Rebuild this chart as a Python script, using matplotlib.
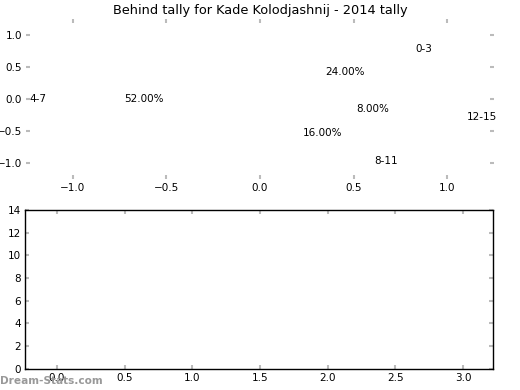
import matplotlib
matplotlib.use("Agg")
import matplotlib.pyplot as plt
import numpy as np

title = "Behind tally for Kade Kolodjashnij - 2014 tally"
categories = ["0-3", "4-7", "8-11", "12-15"]
counts = [6, 13, 4, 2]
pie_xticks = [-1.0, -0.5, 0.0, 0.5, 1.0]
pie_yticks = [-1.0, -0.5, 0.0, 0.5, 1.0]
bar_xticks = [0.0, 0.5, 1.0, 1.5, 2.0, 2.5, 3.0]
bar_yticks = [0, 2, 4, 6, 8, 10, 12, 14]

fig = plt.figure(figsize=(5.2, 3.9), dpi=100)
tick_grey = "#bbbbbb"

# top: pie with invisible wedges
ax1 = fig.add_axes([0.05, 0.541, 0.9, 0.41])
wedges, texts, autotexts = ax1.pie(
    counts, labels=categories, autopct="%.2f%%", startangle=0,
    radius=1.035, wedgeprops=dict(alpha=0.0), textprops=dict(fontsize=7.5))
ax1.set_aspect("auto")
ax1.set_xlim(-1.25, 1.25)
ax1.set_ylim(-1.25, 1.25)
ax1.set_frame_on(False)
ax1.set_xticks(pie_xticks)
ax1.set_yticks(pie_yticks)
ax1.set_xticklabels([f"{v:.1f}".replace("-", "\u2212") for v in pie_xticks])
ax1.set_yticklabels([f"{v:.1f}".replace("-", "\u2212") for v in pie_yticks])
ax1.tick_params(direction="in", length=3, width=1.5, color=tick_grey,
                labelsize=7.5, top=True, right=True, pad=3)
ax1.set_title(title, fontsize=9.3, pad=3.5)

# bottom: empty bar area
ax2 = fig.add_axes([0.048, 0.054, 0.9, 0.408])
ax2.set_xlim(-0.236, 3.22)
ax2.set_ylim(0, 14)
ax2.set_xticks(bar_xticks)
ax2.set_yticks(bar_yticks)
ax2.tick_params(direction="in", length=3, width=1.5, color=tick_grey,
                labelsize=7.5, top=True, right=True, pad=3)
for s in ax2.spines.values():
    s.set_linewidth(1.0)

fig.text(0.0, 0.01, "Dream-Stats.com", fontsize=7.6, color="#999999",
         fontweight="bold", ha="left", va="bottom")

fig.savefig("out.png", dpi=100)
